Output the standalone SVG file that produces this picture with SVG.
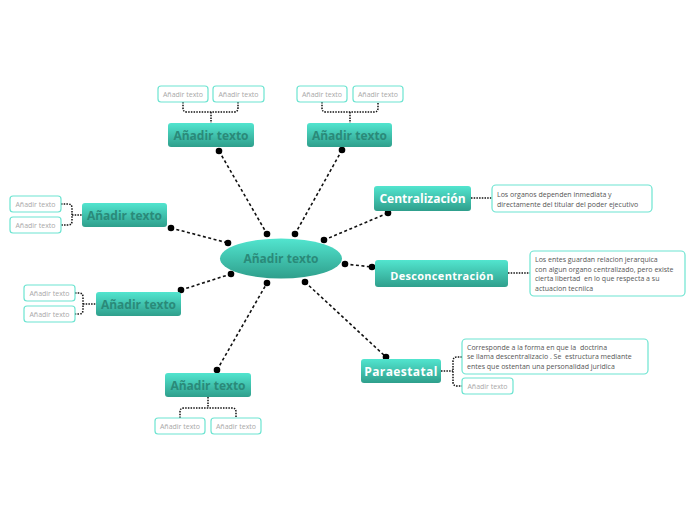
<svg xmlns="http://www.w3.org/2000/svg" width="696" height="520" viewBox="0 0 696 520">
<defs>
<linearGradient id="g" x1="0" y1="0" x2="0" y2="1">
<stop offset="0" stop-color="#52e5cf"/>
<stop offset="1" stop-color="#2f9f8c"/>
</linearGradient>
<style>
.topic{fill:url(#g);}
.tp{font-family:"Open Sans",sans-serif;font-weight:bold;font-size:12px;fill:#2a8a79;text-anchor:middle;}
.tw{font-family:"Open Sans",sans-serif;font-weight:bold;font-size:12px;fill:#ffffff;text-anchor:middle;}
.sb{fill:#ffffff;stroke:#6de4d1;stroke-width:1.2;}
.st{font-family:"Open Sans",sans-serif;font-size:7px;fill:#a8a8a8;text-anchor:middle;}
.dt{font-family:"Open Sans",sans-serif;font-size:7px;fill:#555555;}
.ln{fill:none;stroke:#111;stroke-width:1.6;stroke-dasharray:3 2.5;}
.br{fill:none;stroke:#111;stroke-width:1.5;stroke-dasharray:1.5 1.2;}
.dot{fill:#000;}
</style>
</defs>
<rect width="696" height="520" fill="#ffffff"/>
<g id="connectors">
<line class="ln" x1="219" y1="151" x2="267" y2="234"/>
<line class="ln" x1="342" y1="150" x2="295" y2="234"/>
<line class="ln" x1="171" y1="228" x2="228" y2="243"/>
<line class="ln" x1="181" y1="290" x2="231" y2="274"/>
<line class="ln" x1="217" y1="370" x2="267" y2="283"/>
<line class="ln" x1="324" y1="240" x2="388" y2="213"/>
<line class="ln" x1="345" y1="264" x2="372" y2="267"/>
<line class="ln" x1="305" y1="282" x2="386" y2="357"/>
<circle class="dot" cx="219" cy="151" r="3.3"/>
<circle class="dot" cx="267" cy="234" r="3.3"/>
<circle class="dot" cx="342" cy="150" r="3.3"/>
<circle class="dot" cx="295" cy="234" r="3.3"/>
<circle class="dot" cx="171" cy="228" r="3.3"/>
<circle class="dot" cx="228" cy="243" r="3.3"/>
<circle class="dot" cx="181" cy="290" r="3.3"/>
<circle class="dot" cx="231" cy="274" r="3.3"/>
<circle class="dot" cx="217" cy="370" r="3.3"/>
<circle class="dot" cx="267" cy="283" r="3.3"/>
<circle class="dot" cx="324" cy="240" r="3.3"/>
<circle class="dot" cx="388" cy="213" r="3.3"/>
<circle class="dot" cx="345" cy="264" r="3.3"/>
<circle class="dot" cx="372" cy="267" r="3.3"/>
<circle class="dot" cx="305" cy="282" r="3.3"/>
<circle class="dot" cx="386" cy="357" r="3.3"/>
<path class="br" d="M183,102 V108 Q183,112 187,112 H234 Q238,112 238,108 V102 M211,112 V123"/>
<path class="br" d="M322,102 V108 Q322,112 326,112 H374 Q378,112 378,108 V102 M350,112 V123"/>
<path class="br" d="M61,204 H68 Q72,204 72,208 V221 Q72,225 68,225 H61 M72,215 H82"/>
<path class="br" d="M75,293 H79 Q83,293 83,297 V310 Q83,314 79,314 H75 M83,304 H96"/>
<path class="br" d="M180,418 V412 Q180,408 184,408 H232 Q236,408 236,412 V418 M208,397 V408"/>
<path class="br" d="M462,357 H457 Q453,357 453,361 V382 Q453,386 457,386 H462 M441,371 H453"/>
<path class="br" d="M471,198 H492"/>
<path class="br" d="M508,273 H530"/>
</g>
<g id="center">
<ellipse cx="281" cy="258.5" rx="61" ry="20" class="topic"/>
<text class="tp" x="281" y="263">Añadir texto</text>
</g>
<g id="topic-tl">
<rect class="topic" x="168" y="123" width="86" height="24" rx="3"/>
<text class="tp" x="211" y="139.5">Añadir texto</text>
</g>
<g id="topic-tr">
<rect class="topic" x="307" y="123" width="85" height="24" rx="3"/>
<text class="tp" x="349.5" y="139.5">Añadir texto</text>
</g>
<g id="topic-l1">
<rect class="topic" x="82" y="203" width="85" height="24" rx="3"/>
<text class="tp" x="124.5" y="219.5">Añadir texto</text>
</g>
<g id="topic-l2">
<rect class="topic" x="96" y="292" width="85" height="24" rx="3"/>
<text class="tp" x="138.5" y="308.5">Añadir texto</text>
</g>
<g id="topic-b">
<rect class="topic" x="165" y="373" width="86" height="24" rx="3"/>
<text class="tp" x="208" y="389.5">Añadir texto</text>
</g>
<g id="centralizacion">
<rect class="topic" x="374" y="186" width="97" height="25" rx="3"/>
<text class="tw" x="422.5" y="203">Centralización</text>
</g>
<g id="desconcentracion">
<rect class="topic" x="375" y="260" width="133" height="27" rx="3"/>
<text class="tw" x="442" y="280" style="font-size:11px;letter-spacing:0.3px">Desconcentración</text>
</g>
<g id="paraestatal">
<rect class="topic" x="361" y="359" width="80" height="24" rx="3"/>
<text class="tw" x="401" y="376" style="letter-spacing:0.4px">Paraestatal</text>
</g>
<g id="sub-tl1"><rect class="sb" x="158" y="86" width="50" height="16" rx="3"/><text class="st" x="183" y="96.5">Añadir texto</text></g>
<g id="sub-tl2"><rect class="sb" x="213" y="86" width="51" height="16" rx="3"/><text class="st" x="238.5" y="96.5">Añadir texto</text></g>
<g id="sub-tr1"><rect class="sb" x="297" y="86" width="50" height="16" rx="3"/><text class="st" x="322" y="96.5">Añadir texto</text></g>
<g id="sub-tr2"><rect class="sb" x="353" y="86" width="50" height="16" rx="3"/><text class="st" x="378" y="96.5">Añadir texto</text></g>
<g id="sub-l11"><rect class="sb" x="10" y="196" width="51" height="16" rx="3"/><text class="st" x="35.5" y="206.5">Añadir texto</text></g>
<g id="sub-l12"><rect class="sb" x="10" y="217" width="51" height="16" rx="3"/><text class="st" x="35.5" y="227.5">Añadir texto</text></g>
<g id="sub-l21"><rect class="sb" x="24" y="285" width="51" height="16" rx="3"/><text class="st" x="49.5" y="295.5">Añadir texto</text></g>
<g id="sub-l22"><rect class="sb" x="24" y="306" width="51" height="16" rx="3"/><text class="st" x="49.5" y="316.5">Añadir texto</text></g>
<g id="sub-b1"><rect class="sb" x="155" y="418" width="50" height="16" rx="3"/><text class="st" x="180" y="428.5">Añadir texto</text></g>
<g id="sub-b2"><rect class="sb" x="211" y="418" width="50" height="16" rx="3"/><text class="st" x="236" y="428.5">Añadir texto</text></g>
<g id="sub-p2"><rect class="sb" x="462" y="378" width="51" height="16" rx="3"/><text class="st" x="487.5" y="388.5">Añadir texto</text></g>
<g id="desc-centralizacion">
<rect class="sb" x="492" y="185" width="160" height="27" rx="4"/>
<text class="dt" x="497" y="196.5">Los organos dependen inmediata y</text>
<text class="dt" x="497" y="206.5">directamente del titular del poder ejecutivo</text>
</g>
<g id="desc-desconcentracion">
<rect class="sb" x="530" y="251" width="155" height="45" rx="4"/>
<text class="dt" x="535" y="262">Los entes guardan relacion jerarquica</text>
<text class="dt" x="535" y="271.5">con algun organo centralizado, pero existe</text>
<text class="dt" x="535" y="281" xml:space="preserve">cierta libertad  en lo que respecta a su</text>
<text class="dt" x="535" y="290.5">actuacion tecniica</text>
</g>
<g id="desc-paraestatal">
<rect class="sb" x="462" y="339" width="186" height="35" rx="4"/>
<text class="dt" x="467" y="349.5" xml:space="preserve">Corresponde a la forma en que la  doctrina</text>
<text class="dt" x="467" y="359" xml:space="preserve">se llama descentralizacio . Se  estructura mediante</text>
<text class="dt" x="467" y="368.5">entes que ostentan una personalidad juridica</text>
</g>
</svg>
